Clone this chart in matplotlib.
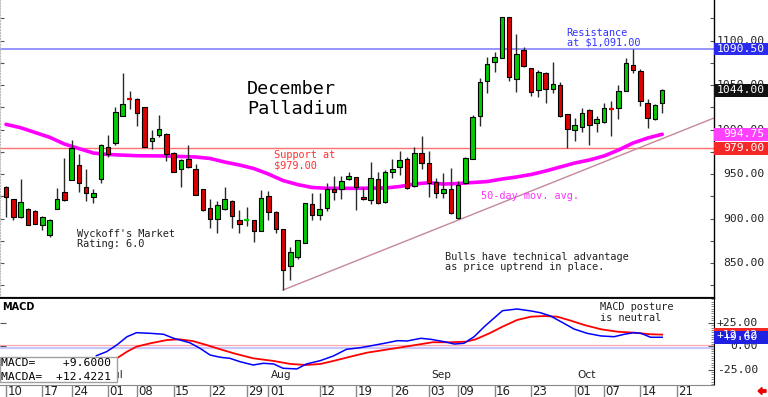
import matplotlib
matplotlib.use('Agg')
import matplotlib.pyplot as plt
import matplotlib.transforms as mtrans
from matplotlib.patches import Rectangle, FancyArrow
import numpy as np

# ---------------- data ----------------
opens = [935.8, 921.6, 902.1, 911.1, 908.1, 892.4, 881.2, 910.4, 929.8, 943.0,
         959.8, 935.8, 923.9, 944.1, 980.1, 984.5, 1015.5, 1035.0, 1034.3, 1025.0,
         986.8, 993.5, 994.7, 974.0, 955.7, 966.9, 955.3, 932.8, 911.8, 899.1,
         910.4, 920.1, 898.4, 897.5, 898.4, 886.4, 925.0, 907.4, 888.6, 846.7,
         856.5, 873.1, 916.0, 903.6, 911.5, 932.8, 932.8, 944.8, 947.0, 924.5,
         920.8, 944.8, 918.2, 952.6, 958.3, 966.9, 936.6, 974.0, 962.1, 941.4,
         929.0, 933.2, 900.3, 939.6, 966.6, 1015.6, 1054.5, 1075.6, 1080.1, 1126.1,
         1056.5, 1089.4, 1068.8, 1044.4, 1063.9, 1045.2, 1050.1, 1017.5, 999.5, 1003.2,
         1022.0, 1007.0, 1008.8, 1023.7, 1023.9, 1043.6, 1072.5, 1065.8, 1029.5, 1011.8,
         1029.5]
highs = [936.6, 922.3, 944.1, 911.8, 909.6, 902.8, 899.1, 934.0, 968.4, 988.3,
         972.2, 956.0, 933.5, 983.8, 994.2, 1025.0, 1063.9, 1043.6, 1035.4, 1025.7,
         999.5, 1016.0, 995.8, 974.8, 966.6, 982.6, 961.3, 932.8, 921.6, 919.4,
         935.8, 920.8, 909.6, 912.6, 898.4, 932.1, 930.6, 908.8, 888.6, 868.4,
         875.9, 917.8, 929.0, 929.0, 939.5, 948.1, 947.8, 952.3, 947.0, 935.8,
         963.5, 952.0, 954.5, 966.9, 976.2, 969.5, 980.7, 992.7, 976.2, 945.2,
         951.5, 956.5, 942.5, 968.8, 1016.0, 1057.6, 1081.8, 1086.8, 1126.1, 1126.8,
         1107.4, 1093.1, 1068.8, 1066.9, 1065.0, 1076.2, 1053.1, 1017.5, 1012.6, 1023.9,
         1022.7, 1015.2, 1030.2, 1032.4, 1050.1, 1080.1, 1090.5, 1067.7, 1034.0, 1028.7,
         1045.2]
lows = [902.0, 898.4, 900.3, 892.4, 893.9, 887.1, 878.9, 910.4, 920.1, 943.0,
        929.5, 920.1, 917.8, 939.5, 969.5, 983.0, 1015.1, 1023.4, 1004.3, 980.1,
        977.8, 991.3, 965.0, 952.3, 935.8, 956.4, 926.8, 908.8, 889.4, 884.1,
        909.6, 889.4, 884.1, 891.6, 874.0, 886.4, 898.4, 883.4, 819.7, 830.9,
        854.2, 872.4, 898.4, 898.4, 908.8, 920.8, 921.6, 943.3, 909.6, 920.8,
        916.3, 916.3, 917.1, 945.2, 948.9, 933.2, 935.8, 955.3, 923.9, 922.7,
        922.7, 905.1, 899.1, 938.8, 966.6, 1004.3, 1040.7, 1065.0, 1080.1, 1054.9,
        1042.5, 1070.6, 1037.7, 1036.2, 1030.2, 1040.7, 1014.4, 978.9, 987.5, 996.9,
        982.6, 996.9, 1007.0, 992.7, 1011.8, 1043.6, 1063.2, 1026.8, 1001.4, 1010.7,
        1018.9]
closes = [924.5, 901.4, 918.6, 892.4, 893.9, 902.1, 898.4, 921.6, 920.8, 979.6,
          939.5, 929.0, 928.4, 982.3, 972.5, 1019.4, 1029.0, 1034.4, 1018.6, 980.8,
          990.5, 1000.3, 972.5, 952.6, 965.5, 957.6, 926.8, 909.6, 899.8, 915.5,
          922.3, 902.9, 893.9, 898.0, 885.7, 922.7, 907.4, 888.6, 842.2, 862.9,
          875.9, 917.8, 903.6, 910.4, 932.8, 929.8, 942.5, 947.8, 935.8, 922.3,
          945.9, 917.1, 952.6, 955.3, 965.8, 933.9, 973.3, 962.1, 939.6, 929.0,
          932.8, 905.9, 937.7, 967.7, 1014.4, 1053.8, 1073.3, 1081.8, 1126.1, 1059.4,
          1084.5, 1071.4, 1041.8, 1064.3, 1045.2, 1050.8, 1015.2, 1000.3, 1005.1, 1018.9,
          1005.1, 1012.2, 1024.5, 1023.4, 1043.6, 1075.1, 1066.9, 1032.4, 1013.3, 1027.6,
          1044.0]

ma_day = [0, 2, 4, 6, 8, 10, 12, 14, 18, 22, 26, 28, 30, 32, 34, 36, 38, 40, 42, 44,
          48, 52, 54, 56, 58, 60, 62, 64, 66, 68, 70, 72, 74, 76, 78, 80, 82, 84, 86, 88, 90]
ma_val = [1005.9, 1002.1, 996.7, 991.3, 983.8, 978.7, 973.6, 972.0, 970.6, 970.3,
          969.2, 967.5, 963.5, 960.2, 956.2, 950.0, 942.7, 938.2, 934.9, 934.0,
          934.0, 934.3, 936.0, 938.8, 940.3, 938.8, 939.4, 940.5, 941.6, 944.4,
          946.7, 949.5, 953.4, 957.9, 962.4, 965.8, 970.3, 977.0, 984.9, 990.5, 994.75]

trend_day = [38, 97.1]
trend_val = [819.7, 1013.0]

resistance = 1090.5
support = 979.0
last_close = 1044.0
last_ma = 994.75

macd_day = [12.4, 13.8, 15.2, 16.6, 17.9, 19.8, 21.6, 23.0, 25.2, 26.6, 28.0, 29.4, 30.7,
            32.1, 33.9, 35.3, 36.7, 38.0, 39.9, 41.2, 43.1, 44.9, 46.7, 48.6, 49.9, 51.9,
            53.7, 55.0, 56.9, 58.3, 60.1, 61.5, 62.8, 64.2, 65.6, 66.9, 68.1, 70.1, 72.0,
            73.3, 74.7, 76.5, 77.9, 79.7, 81.6, 83.4, 84.8, 86.1, 87.1, 88.4, 90]
macd_val = [-10.0, -5.7, 1.4, 10.2, 14.5, 13.8, 12.8, 8.5, 3.8, -2.1, -9.3, -11.7, -12.8,
            -16.4, -19.9, -18.1, -18.8, -23.4, -24.1, -18.8, -15.3, -10.3, -3.2, -1.5, 0.3, 3.2,
            6.0, 5.6, 8.5, 7.4, 4.9, 2.4, 3.2, 10.2, 20.9, 29.8, 37.9, 39.7, 37.6,
            35.7, 32.2, 24.5, 18.4, 13.8, 11.0, 10.2, 12.8, 14.5, 13.8, 9.6, 9.6]
sig_day = [15.2, 16.6, 17.9, 19.8, 22.1, 23.8, 25.6, 27.5, 29.4, 31.2, 33.9, 36.7, 39.0,
           41.2, 43.1, 44.9, 47.2, 49.5, 51.9, 54.2, 56.2, 58.5, 60.8, 63.1, 64.4, 66.3,
           68.1, 70.1, 72.0, 73.8, 75.6, 77.5, 79.3, 81.6, 83.9, 86.1, 88.4, 90]
sig_val = [-12.8, -5.7, -0.4, 3.2, 6.7, 7.4, 5.6, 1.4, -3.2, -7.4, -12.8, -15.6, -18.8,
           -19.9, -18.8, -15.6, -11.1, -6.8, -3.9, -1.1, 1.4, 4.3, 4.3, 4.9, 7.4, 13.8,
           20.9, 28.0, 31.5, 32.2, 31.5, 27.2, 22.7, 18.1, 15.5, 14.5, 12.8, 12.42]
macd_last = 9.6000
sig_last = 12.4221

date_pos = [0, 5, 9, 14, 18, 23, 28, 33, 36, 43, 48, 53, 58, 62, 67, 72, 78, 82, 87, 92]
date_lbl = ['10', '17', '24', '01', '08', '15', '22', '29', '01', '12', '19', '26',
            '03', '09', '16', '23', '01', '07', '14', '21']
month_pos = [14, 36, 58, 78]
month_lbl = ['Jul', 'Aug', 'Sep', 'Oct']

price_ticks = [1100, 1050, 1000, 950, 900, 850]
macd_ticks = [25, 0, -25]

# ---------------- layout ----------------
W, H = 768, 397
fig = plt.figure(figsize=(W / 100, H / 100), dpi=100)
fig.patch.set_facecolor('white')
XL = (-0.82, 97.1)
MONO = 'DejaVu Sans Mono'

ax = fig.add_axes([0, 1 - 297.5 / H, 714 / W, 297.5 / H])
axm = fig.add_axes([0, 1 - 385 / H, 714 / W, 87 / H])
axd = fig.add_axes([0, 0, 714 / W, 12 / H])

# main panel
ax.set_xlim(*XL)
ax.set_ylim(811.3, 1145.6)
ax.spines['top'].set_visible(False)
ax.spines['left'].set_color('#bbbbbb')
ax.spines['left'].set_linestyle(':')
ax.spines['right'].set_color('black')
ax.spines['right'].set_linewidth(1.0)
ax.spines['bottom'].set_color('#333333')
ax.spines['bottom'].set_linewidth(1.6)
ax.set_xticks([])
ax.set_yticks(np.arange(825, 1150, 25))
ax.tick_params(axis='y', which='major', direction='in', length=3, color='#555555',
               left=True, right=True, labelleft=False, labelright=False)

ax.axhline(resistance, color='#8c8cff', lw=1.3, zorder=1)
ax.axhline(support, color='#ff7070', lw=1.0, zorder=1)
ax.plot(trend_day, trend_val, color='#c4889c', lw=1.0, zorder=1)
ax.plot(ma_day, ma_val, color='#ff00ff', lw=2.6, zorder=1.5, solid_capstyle='round')

x = np.arange(len(closes))
o = np.array(opens); c = np.array(closes)
ax.vlines(x, lows, highs, color='#2a2a2a', lw=1.0, zorder=2)
doji = np.abs(c - o) < 1.0
up = c >= o
cols = np.where(up, '#00cc00', '#dd0000')
nd = ~doji
ax.bar(x[nd], (c - o)[nd], bottom=o[nd], width=0.62, color=cols[nd],
       edgecolor='black', linewidth=0.8, zorder=3)
for i in x[doji]:
    ax.hlines(c[i], i - 0.35, i + 0.35, color=cols[i], lw=1.6, zorder=4)

# main text
def ftext(px, py, s, **kw):
    fig.text(px / W, 1 - py / H, s, **kw)

ftext(247, 94.3, 'December', fontsize=13.3, family=MONO, va='baseline')
ftext(247, 114, 'Palladium', fontsize=13.3, family=MONO, va='baseline')
ftext(77, 236.7, "Wyckoff's Market", fontsize=7.4, family=MONO, va='baseline', color='#222222')
ftext(77, 247.3, 'Rating: 6.0', fontsize=7.4, family=MONO, va='baseline', color='#222222')
ftext(274, 158.3, 'Support at', fontsize=7.4, family=MONO, va='baseline', color='#ff3030')
ftext(274, 169, '$979.00', fontsize=7.4, family=MONO, va='baseline', color='#ff3030')
ftext(566.7, 35.7, 'Resistance', fontsize=7.4, family=MONO, va='baseline', color='#3333ff')
ftext(566.7, 45.5, 'at $1,091.00', fontsize=7.4, family=MONO, va='baseline', color='#3333ff')
ftext(481, 199.3, '50-day mov. avg.', fontsize=7.4, family=MONO, va='baseline', color='#ff33ff')
ftext(445, 260, 'Bulls have technical advantage', fontsize=7.4, family=MONO, va='baseline', color='#222222')
ftext(445, 269.5, 'as price uptrend in place.', fontsize=7.4, family=MONO, va='baseline', color='#222222')

# right price labels
bt = mtrans.blended_transform_factory(fig.transFigure, ax.transData)
for v in price_ticks:
    fig.text(765 / W, v, f'{v:.2f}', transform=bt, ha='right', va='center',
             fontsize=8.2, family=MONO, color='#222222', zorder=3)
hh = 7.2
for v, col in [(resistance, '#2b2bf0'), (last_close, '#111111'),
               (last_ma, '#ff40ff'), (support, '#f52828')]:
    fig.add_artist(Rectangle((714 / W, v - hh), 54 / W, 2 * hh, transform=bt,
                             facecolor=col, edgecolor='none', zorder=4))
    fig.text(765 / W, v, f'{v:.2f}', transform=bt, ha='right', va='center',
             fontsize=8.2, family=MONO, color='white', zorder=5)

# MACD panel
axm.set_xlim(*XL)
axm.set_ylim(-41.2, 51.4)
axm.spines['left'].set_visible(False)
axm.spines['top'].set_color('black')
axm.spines['top'].set_linewidth(1.3)
axm.spines['right'].set_color('black')
axm.spines['bottom'].set_color('#888888')
axm.set_xticks([])
axm.set_yticks(macd_ticks)
axm.set_yticks(np.arange(-40, 51, 2.5), minor=True)
axm.tick_params(axis='y', which='major', direction='in', length=4, color='#555555',
                left=True, right=True, labelleft=False, labelright=False)
axm.tick_params(axis='y', which='minor', direction='in', length=2, color='#777777',
                left=False, right=True)
axm.axhline(1.4, color='#ffaaaa', lw=0.9, zorder=1)
axm.axhline(-2.1, color='#c8c8ff', lw=1.6, zorder=1)
axm.plot(sig_day, sig_val, color='#ff0000', lw=1.3, zorder=3)
axm.plot(macd_day, macd_val, color='#0000ff', lw=1.1, zorder=3)

for p, m in zip(month_pos, month_lbl):
    axm.text(p + 0.3, 0.11, m, transform=axm.get_xaxis_transform(), fontsize=7.6,
             va='center', ha='left', color='#222222', zorder=2)
axm.text(2 / 714, (385 - 310) / 87, 'MACD', transform=axm.transAxes, fontsize=7,
         fontweight='bold', va='baseline', ha='left')
axm.text(600 / 714, (385 - 310.5) / 87, 'MACD posture', transform=axm.transAxes,
         fontsize=7.4, family=MONO, va='baseline', color='#222222')
axm.text(600 / 714, (385 - 321) / 87, 'is neutral', transform=axm.transAxes,
         fontsize=7.4, family=MONO, va='baseline', color='#222222')

axm.add_patch(Rectangle((0, 0.038), 117 / 714, 0.287, transform=axm.transAxes,
                        facecolor='white', edgecolor='#a0a0a0', lw=1.0, zorder=10,
                        clip_on=False))
axm.text(1 / 714, (385 - 366) / 87, f'MACD=    {macd_last:+.4f}', transform=axm.transAxes,
         fontsize=8.2, family=MONO, va='baseline', zorder=11)
axm.text(1 / 714, (385 - 380) / 87, f'MACDA=  {sig_last:+.4f}', transform=axm.transAxes,
         fontsize=8.2, family=MONO, va='baseline', zorder=11)

btm = mtrans.blended_transform_factory(fig.transFigure, axm.transData)
for v in macd_ticks:
    fig.text(758 / W, v, f'{v:+.2f}' if v != 0 else '0.00', transform=btm, ha='right',
             va='center', fontsize=8.2, family=MONO, color='#222222', zorder=3)
hm = 6.9
for v, col, s in [(sig_last, '#f52828', f'{sig_last:+.2f}'),
                  (macd_last, '#2020e0', f'{macd_last:+.2f}')]:
    fig.add_artist(Rectangle((714 / W, v - hm), 54 / W, 2 * hm, transform=btm,
                             facecolor=col, edgecolor='none', zorder=4))
    fig.text(758 / W, v, s, transform=btm, ha='right', va='center',
             fontsize=8.2, family=MONO, color='white', zorder=5)

# date strip
axd.set_xlim(*XL)
axd.set_ylim(0, 1)
axd.axis('off')
for p, l in zip(date_pos, date_lbl):
    axd.vlines(p, 0, 1, color='#888888', lw=1.0)
    axd.text(p + 0.2, 0.45, l, fontsize=8.5, va='center', ha='left', color='#222222')

fig.add_artist(FancyArrow(766, 6, -8, 0, width=2.5, head_width=7, head_length=4,
                          length_includes_head=True, color='#ee0000',
                          transform=mtrans.IdentityTransform()))

fig.savefig('out.png', dpi=100)
